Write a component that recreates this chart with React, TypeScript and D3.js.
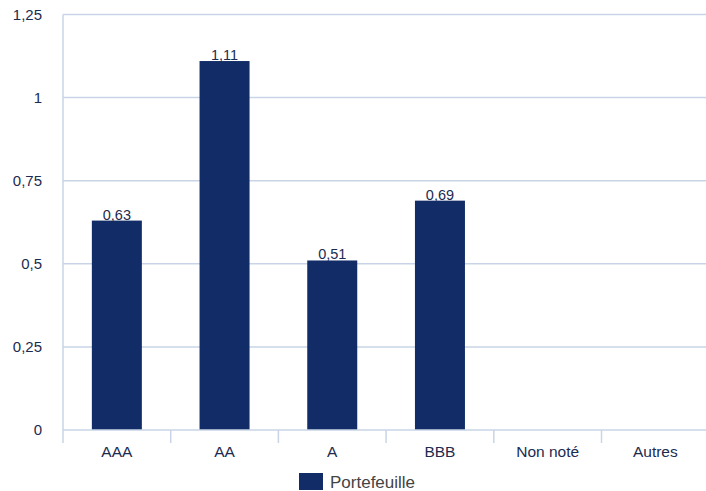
import * as React from 'react';
import * as d3 from 'd3';

const categories = ['AAA', 'AA', 'A', 'BBB', 'Non noté', 'Autres'];
const values = [0.63, 1.11, 0.51, 0.69, null, null];
const yTicks = [0, 0.25, 0.5, 0.75, 1, 1.25];
const seriesName = 'Portefeuille';

const WIDTH = 706;
const HEIGHT = 491;
const left = 63;
const top = 14.5;
const bottom = 430;
const bandW = 107.7;

const fmt = (v: number) => String(v).replace('.', ',');

export default function App() {
    const x = d3.scaleBand<string>().domain(categories)
        .range([left, left + bandW * categories.length]).paddingInner(0).paddingOuter(0);
    const y = d3.scaleLinear().domain([0, 1.25]).range([bottom, top]);
    const barW = 50;
    const font = 'Helvetica, Arial, "Liberation Sans", sans-serif';

    return (
        <svg width={WIDTH} height={HEIGHT} style={{ position: 'absolute', left: 0, top: 0 }} fontFamily={font}>
            <rect width={WIDTH} height={HEIGHT} fill="#fff" />
            {yTicks.map((t) => (
                <g key={t}>
                    {t > 0 && <line x1={left} x2={WIDTH} y1={y(t)} y2={y(t)} stroke="#c9d5e6" strokeWidth={1.5} />}
                    <text x={42} y={y(t)} dy="0.35em" textAnchor="end" fontSize={15} fill="#1c2b4f">{fmt(t)}</text>
                </g>
            ))}
            {categories.map((c, i) => {
                const v = values[i];
                const cx = x(c)! + x.bandwidth() / 2;
                return (
                    <g key={c}>
                        {v != null && (
                            <>
                                <rect x={cx - barW / 2} y={y(v)} width={barW} height={bottom - y(v)} fill="#112c66" />
                                <text x={cx} y={y(v) - 1} textAnchor="middle" fontSize={14.5} fill="#1c2b4f">{fmt(v)}</text>
                            </>
                        )}
                        <text x={cx} y={457} textAnchor="middle" fontSize={15.5} fill="#1c2b4f">{c}</text>
                    </g>
                );
            })}
            <line x1={left} x2={left} y1={top} y2={443} stroke="#c9d5e6" strokeWidth={1.5} />
            <line x1={left} x2={WIDTH} y1={bottom} y2={bottom} stroke="#c9d5e6" strokeWidth={1.5} />
            {categories.slice(1).map((c) => (
                <line key={c} x1={x(c)!} x2={x(c)!} y1={bottom} y2={443} stroke="#c9d5e6" strokeWidth={1.5} />
            ))}
            <rect x={299} y={473} width={24} height={17} fill="#112c66" />
            <text x={330} y={488} fontSize={17} fill="#444">{seriesName}</text>
        </svg>
    );
}
